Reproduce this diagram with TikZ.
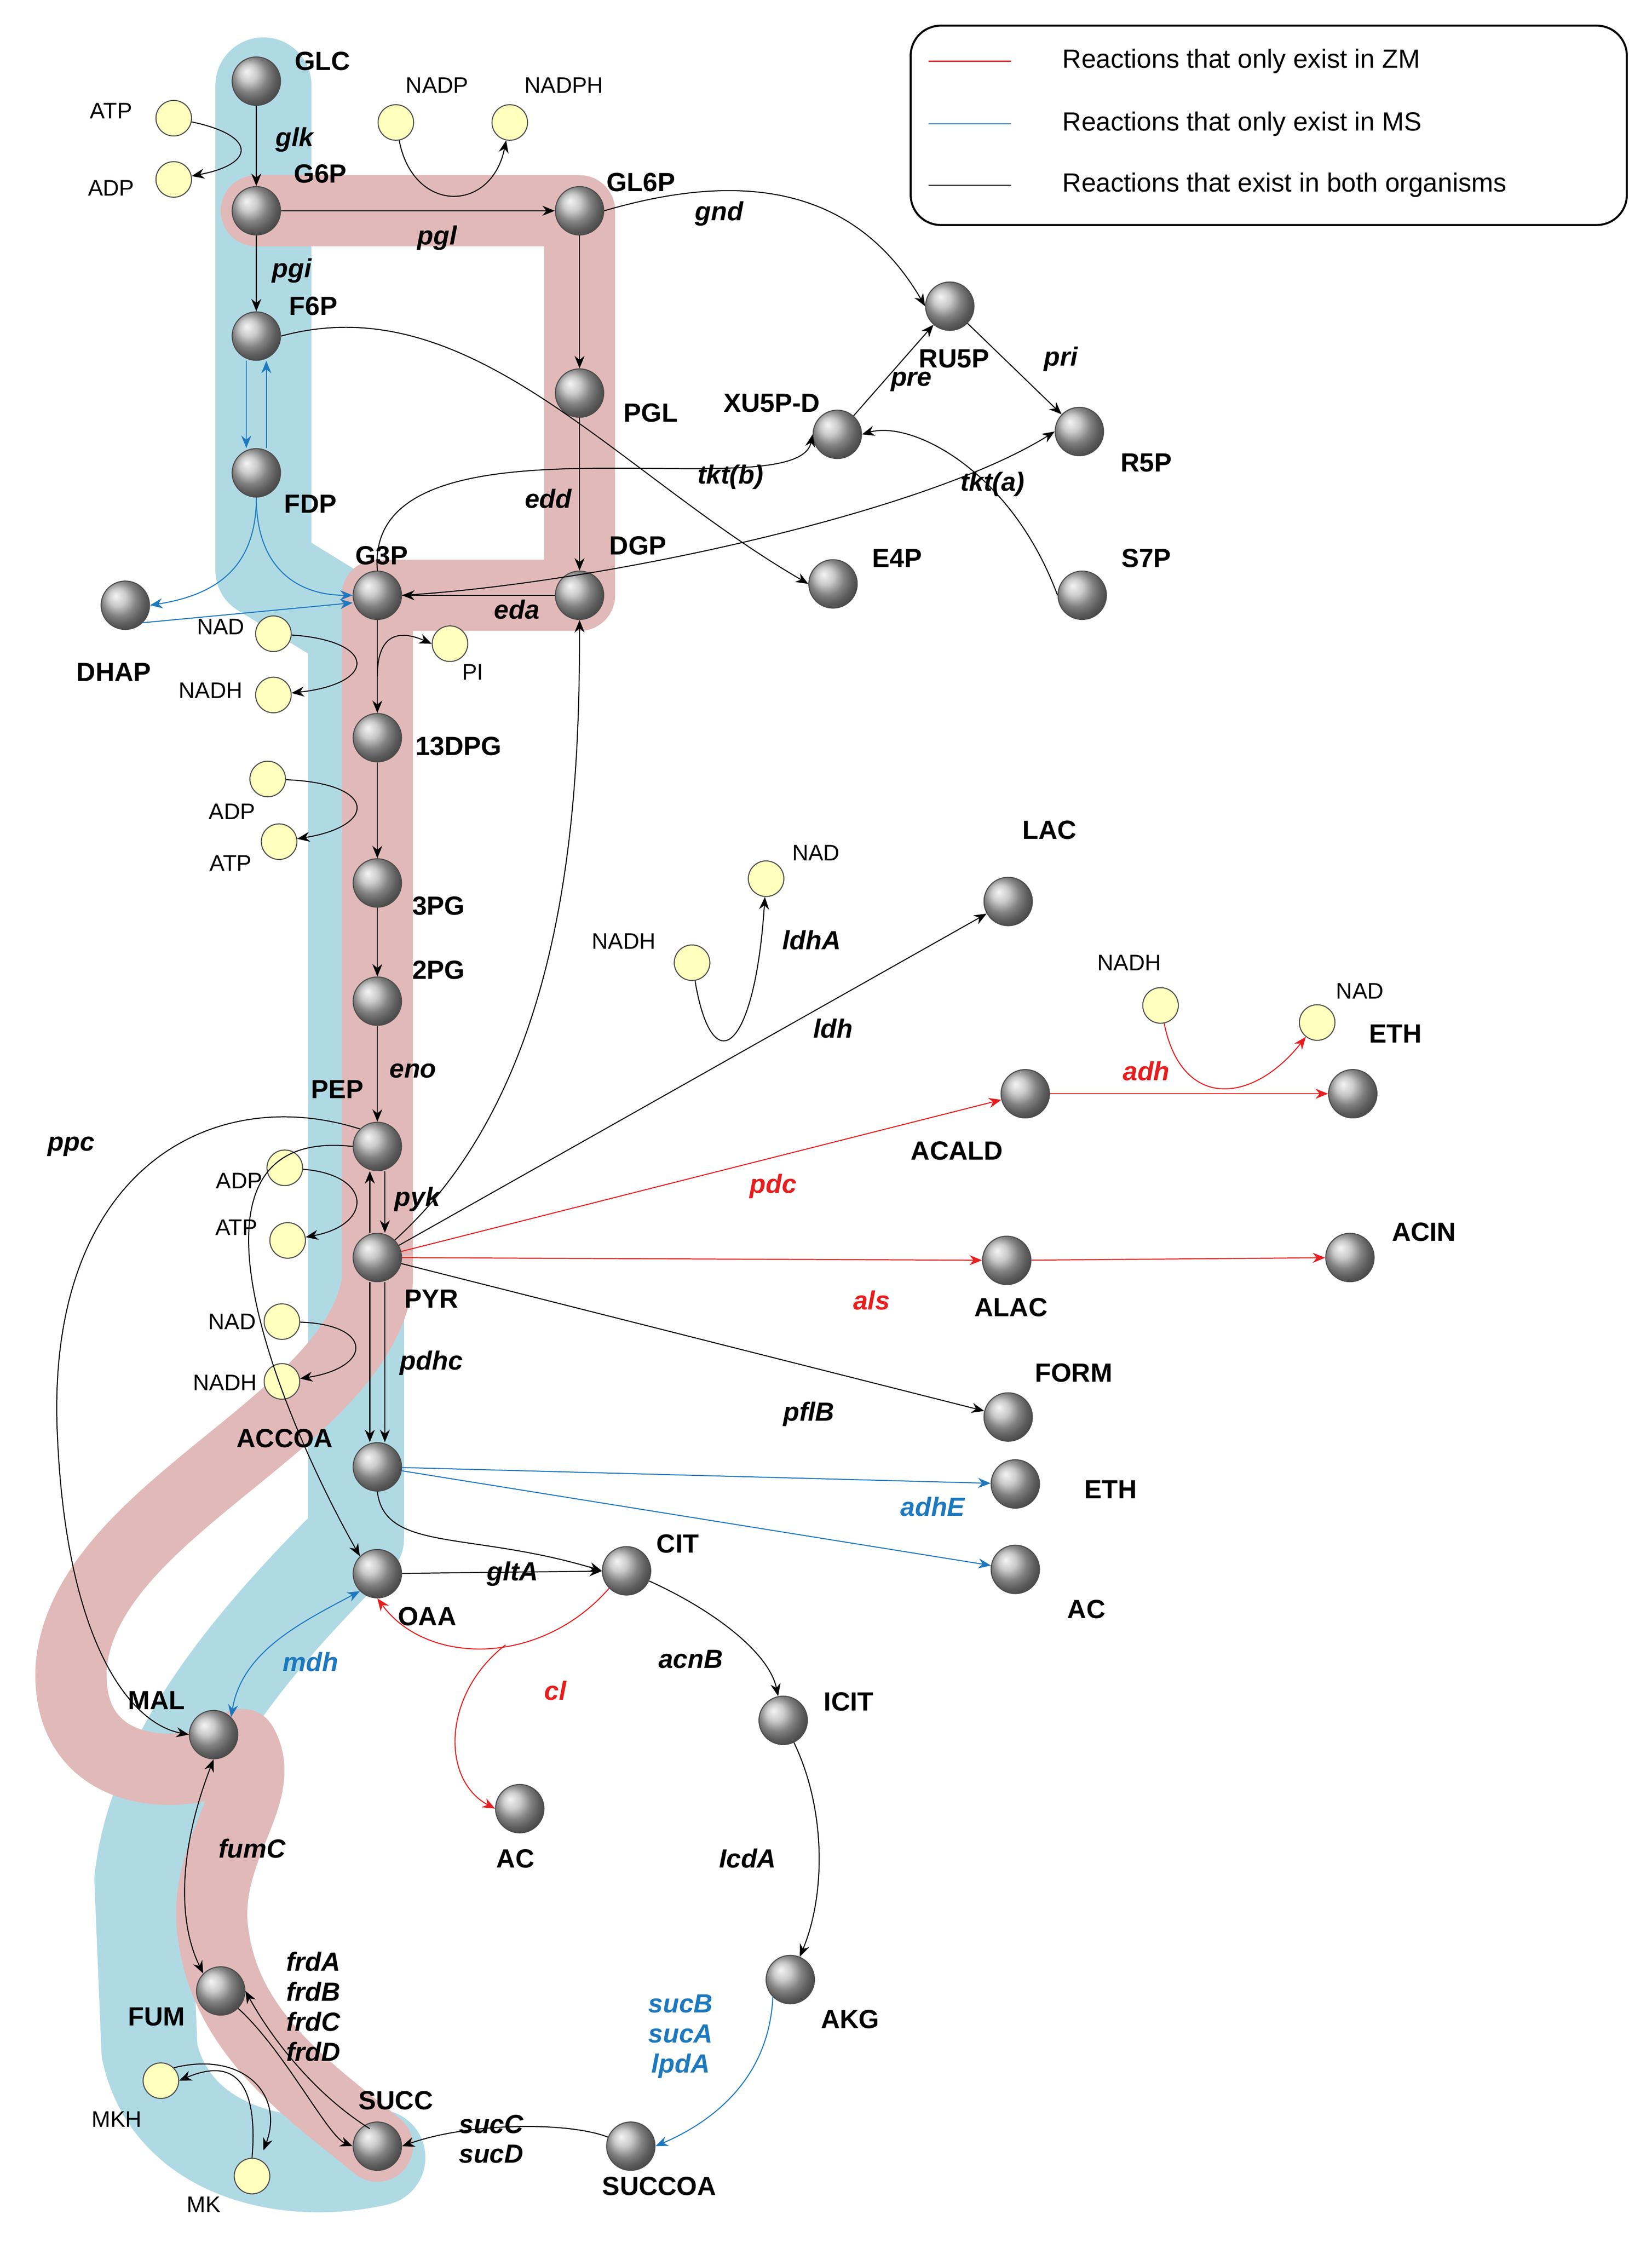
\documentclass[tikz,border=0pt]{standalone}
\usepackage{fontspec}
\setmainfont{Liberation Sans}
\usetikzlibrary{arrows.meta,positioning}
\definecolor{zmred}{RGB}{230,30,30}
\definecolor{msblue}{RGB}{30,120,190}
\definecolor{redband}{RGB}{225,185,185}
\definecolor{blueband}{RGB}{175,218,228}
\definecolor{cofill}{RGB}{255,255,190}

\begin{document}
\begin{tikzpicture}[x=0.02cm,y=-0.02cm,
    met/.style={circle, draw=gray!60!black, ball color=gray!55, minimum size=0.68cm, inner sep=0pt},
    co/.style={circle, draw=black!70, fill=cofill, minimum size=0.5cm, inner sep=0pt},
    lab/.style={font=\fontsize{10.5}{12}\selectfont\bfseries},
    clab/.style={font=\fontsize{9}{10}\selectfont},
    enz/.style={font=\fontsize{10.5}{12}\selectfont\bfseries\itshape},
    arrow/.style={-{Stealth[length=5pt,width=4pt]}, thin},
    zm/.style={arrow, draw=zmred},
    ms/.style={arrow, draw=msblue},
    band/.style={line width=#1, line cap=round, line join=round}
]
\useasboundingbox (0,0) rectangle (1160,1575);

% Background bands
\draw[band=1.35cm, blueband] (185,60) -- (185,400) -- (250,440) -- (250,1080)
    .. controls (180,1150) and (110,1230) .. (100,1320) -- (105,1440) .. controls (120,1510) and (200,1530) .. (265,1515);
\draw[band=1cm, redband] (180,148) -- (407,148) -- (407,418) -- (265,418) -- (265,900)
    .. controls (250,1000) and (60,1060) .. (50,1170) .. controls (45,1260) and (150,1250) .. (170,1225)
    .. controls (190,1260) and (140,1300) .. (150,1360) .. controls (160,1430) and (220,1470) .. (265,1507);

% Metabolites
\node[met] (glc) at (180,57) {};   \node[lab, right=2pt of glc, yshift=8pt] {GLC};
\node[met] (g6p) at (180,148) {};  \node[lab] at (225,122) {G6P};
\node[met] (gl6p) at (407,148) {}; \node[lab] at (450,128) {GL6P};
\node[met] (f6p) at (180,236) {};  \node[lab] at (220,215) {F6P};
\node[met] (fdp) at (180,332) {};  \node[lab] at (218,354) {FDP};
\node[met] (pgl) at (407,276) {};  \node[lab] at (457,290) {PGL};
\node[met] (ru5p) at (667,215) {}; \node[lab] at (670,252) {RU5P};
\node[met] (xu5p) at (588,305) {}; \node[lab] at (542,283) {XU5P-D};
\node[met] (r5p) at (758,303) {};  \node[lab] at (805,325) {R5P};
\node[met] (e4p) at (585,410) {};  \node[lab] at (630,392) {E4P};
\node[met] (s7p) at (760,418) {};  \node[lab] at (805,392) {S7P};
\node[met] (g3p) at (265,418) {};  \node[lab] at (268,390) {G3P};
\node[met] (dgp) at (407,418) {};  \node[lab] at (448,383) {DGP};
\node[met] (dhap) at (88,425) {};  \node[lab] at (80,472) {DHAP};
\node[met] (dpg) at (265,518) {};  \node[lab] at (322,524) {13DPG};
\node[met] (pg3) at (265,620) {};  \node[lab] at (308,636) {3PG};
\node[met] (pg2) at (265,703) {};  \node[lab] at (308,681) {2PG};
\node[met] (pep) at (265,805) {};  \node[lab] at (237,765) {PEP};
\node[met] (pyr) at (265,883) {};  \node[lab] at (303,912) {PYR};
\node[met] (accoa) at (265,1030) {}; \node[lab] at (200,1010) {ACCOA};
\node[met] (oaa) at (265,1105) {}; \node[lab] at (300,1135) {OAA};
\node[met] (cit) at (440,1103) {}; \node[lab] at (476,1084) {CIT};
\node[met] (icit) at (550,1208) {}; \node[lab] at (596,1195) {ICIT};
\node[met] (akg) at (555,1390) {}; \node[lab] at (597,1418) {AKG};
\node[met] (succoa) at (443,1507) {}; \node[lab] at (463,1535) {SUCCOA};
\node[met] (succ) at (265,1507) {}; \node[lab] at (278,1475) {SUCC};
\node[met] (fum) at (155,1398) {}; \node[lab] at (110,1416) {FUM};
\node[met] (mal) at (150,1218) {}; \node[lab] at (110,1194) {MAL};
\node[met] (ac) at (365,1270) {};  \node[lab] at (362,1305) {AC};
\node[met] (lac) at (708,633) {};  \node[lab] at (737,583) {LAC};
\node[met] (acald) at (720,768) {}; \node[lab] at (672,808) {ACALD};
\node[met] (eth) at (950,768) {};  \node[lab] at (980,726) {ETH};
\node[met] (alac) at (707,885) {}; \node[lab] at (710,918) {ALAC};
\node[met] (acin) at (948,883) {}; \node[lab] at (1000,865) {ACIN};
\node[met] (form) at (708,995) {}; \node[lab] at (754,964) {FORM};
\node[met] (ethb) at (713,1042) {}; \node[lab] at (780,1046) {ETH};
\node[met] (acb) at (713,1102) {}; \node[lab] at (763,1130) {AC};

% Cofactors
\node[co] (atpa) at (122,83) {};   \node[clab] at (78,78) {ATP};
\node[co] (adpa) at (122,126) {};  \node[clab] at (78,132) {ADP};
\node[co] (nadp) at (278,86) {};   \node[clab] at (307,60) {NADP};
\node[co] (nadph) at (358,86) {};  \node[clab] at (396,60) {NADPH};
\node[co] (nada) at (192,445) {};  \node[clab] at (155,440) {NAD};
\node[co] (nadha) at (192,488) {}; \node[clab] at (148,485) {NADH};
\node[co] (pi) at (316,452) {};    \node[clab] at (332,472) {PI};
\node[co] (adpb) at (188,547) {};  \node[clab] at (163,570) {ADP};
\node[co] (atpb) at (196,591) {};  \node[clab] at (162,606) {ATP};
\node[co] (nadhc) at (486,676) {}; \node[clab] at (438,661) {NADH};
\node[co] (nadc) at (538,617) {};  \node[clab] at (573,599) {NAD};
\node[co] (nadhd) at (815,706) {}; \node[clab] at (793,676) {NADH};
\node[co] (nadd) at (925,718) {};  \node[clab] at (955,696) {NAD};
\node[co] (adpc) at (200,820) {};  \node[clab] at (168,829) {ADP};
\node[co] (atpc) at (202,871) {};  \node[clab] at (166,862) {ATP};
\node[co] (nade) at (198,928) {};  \node[clab] at (163,928) {NAD};
\node[co] (nadhe) at (198,970) {}; \node[clab] at (158,971) {NADH};
\node[co] (mkh) at (113,1461) {};  \node[clab] at (82,1488) {MKH};
\node[co] (mk) at (177,1528) {};   \node[clab] at (143,1548) {MK};

% Upper glycolysis and ED pathway
\draw[arrow] (glc) -- (g6p);
\draw[arrow] (atpa) .. controls (180,95) and (180,115) .. (adpa);
\draw[arrow] (g6p) -- (gl6p);
\draw[arrow] (nadp) .. controls (290,150) and (345,150) .. (nadph);
\draw[arrow] (g6p) -- (f6p);
\draw[ms] ([xshift=-4pt]f6p.south) -- ([xshift=-4pt]fdp.north);
\draw[ms] ([xshift=4pt]fdp.north) -- ([xshift=4pt]f6p.south);
\draw[ms] (fdp.south) .. controls (180,400) and (150,418) .. (dhap.east);
\draw[ms] (fdp.south) .. controls (180,400) and (210,418) .. (g3p.west);
\draw[ms] (dhap.south east) -- ([yshift=-3pt]g3p.west);
\draw[arrow] (gl6p) -- (pgl);
\draw[arrow] (pgl) -- (dgp);
\draw[arrow] (dgp) -- (g3p);
\draw[arrow] (gl6p.east) .. controls (520,120) and (600,130) .. (ru5p.west);
\draw[arrow] (ru5p) -- (r5p);
\draw[arrow] (xu5p) -- (ru5p);
\draw[arrow] (f6p.east) .. controls (330,200) and (430,330) .. (e4p.west);
\draw[arrow] (g3p.north) .. controls (255,280) and (560,360) .. (xu5p.west);
\draw[arrow] (s7p.west) .. controls (710,330) and (640,295) .. (xu5p.east);
\draw[arrow] (g3p.east) .. controls (420,410) and (650,360) .. (r5p.west);

% Lower glycolysis
\draw[arrow] (g3p) -- (dpg);
\draw[arrow] (nada) .. controls (265,450) and (265,480) .. (nadha);
\draw[arrow] (265,475) .. controls (265,445) and (280,442) .. (pi.west);
\draw[arrow] (dpg) -- (pg3);
\draw[arrow] (adpb) .. controls (265,550) and (265,580) .. (atpb);
\draw[arrow] (pg3) -- (pg2);
\draw[arrow] (pg2) -- (pep);
\draw[arrow] ([xshift=3pt]pep.south) -- ([xshift=3pt]pyr.north);
\draw[arrow] ([xshift=-3pt]pyr.north) -- ([xshift=-3pt]pep.south);
\draw[arrow] (adpc) .. controls (262,825) and (262,860) .. (atpc);
\draw[arrow] (pyr.north east) .. controls (400,760) and (407,560) .. (dgp.south);

% Fermentation
\draw[arrow] (pyr) -- (lac);
\draw[arrow] (nadhc) .. controls (500,760) and (530,740) .. (nadc);
\draw[zm] (pyr) -- (acald);
\draw[zm] (acald) -- (eth);
\draw[zm] (nadhd) .. controls (830,780) and (880,775) .. (nadd);
\draw[zm] (pyr) -- (alac);
\draw[zm] (alac) -- (acin);
\draw[arrow] (pyr) -- (form);
\draw[arrow] ([xshift=-3pt]pyr.south) -- ([xshift=-3pt]accoa.north);
\draw[arrow] ([xshift=3pt]pyr.south) -- ([xshift=3pt]accoa.north);
\draw[arrow] (nade) .. controls (262,930) and (262,960) .. (nadhe);
\draw[ms] (accoa) -- (ethb);
\draw[ms] (accoa) -- (acb);

% TCA cycle
\draw[arrow] (accoa.south) .. controls (270,1090) and (330,1075) .. (cit.west);
\draw[arrow] (oaa) -- (cit);
\draw[arrow] (pep.north west) .. controls (150,760) and (35,820) .. (40,1000) .. controls (45,1150) and (90,1210) .. (mal.west);
\draw[arrow] (pep.west) .. controls (110,790) and (200,1000) .. (oaa.north west);
\draw[arrow] (cit) .. controls (500,1130) and (540,1160) .. (icit);
\draw[arrow] (icit) .. controls (580,1270) and (580,1330) .. (akg);
\draw[ms] (akg.south west) .. controls (540,1460) and (500,1490) .. (succoa.east);
\draw[arrow] (succoa) .. controls (400,1490) and (330,1490) .. (succ.east);
\draw[zm] (cit.south west) .. controls (380,1170) and (300,1170) .. (oaa.south);
\draw[zm] (355,1155) .. controls (310,1190) and (310,1250) .. (ac.west);
\draw[ms, {Stealth[length=5pt,width=4pt]}-{Stealth[length=5pt,width=4pt]}] (oaa.south west) .. controls (210,1140) and (170,1160) .. (mal.north east);
\draw[arrow, {Stealth[length=5pt,width=4pt]}-{Stealth[length=5pt,width=4pt]}] (mal.south) .. controls (125,1300) and (125,1350) .. (fum.north west);
\draw[arrow] (fum.south east) .. controls (200,1440) and (230,1500) .. (succ.west);
\draw[arrow] ([xshift=4pt]succ.north west) .. controls (220,1470) and (190,1430) .. (fum.east);
\draw[arrow] (mk.north) .. controls (180,1480) and (175,1440) .. (mkh.east);
\draw[arrow] (mkh.north east) .. controls (170,1440) and (200,1470) .. (185,1510);

% Enzyme labels
\node[enz] at (207,98) {glk};
\node[enz] at (307,167) {pgl};
\node[enz] at (205,190) {pgi};
\node[enz] at (505,150) {gnd};
\node[enz] at (745,252) {pri};
\node[enz] at (640,268) {pre};
\node[enz] at (513,335) {tkt(b)};
\node[enz] at (697,340) {tkt(a)};
\node[enz] at (385,350) {edd};
\node[enz] at (363,428) {eda};
\node[enz] at (290,752) {eno};
\node[enz] at (293,842) {pyk};
\node[enz] at (50,805) {ppc};
\node[enz] at (570,660) {ldhA};
\node[enz] at (585,722) {ldh};
\node[enz, zmred] at (805,752) {adh};
\node[enz, zmred] at (543,833) {pdc};
\node[enz, zmred] at (612,913) {als};
\node[enz] at (568,993) {pflB};
\node[enz] at (303,957) {pdhc};
\node[enz, msblue] at (655,1058) {adhE};
\node[enz] at (360,1105) {gltA};
\node[enz] at (485,1165) {acnB};
\node[enz] at (525,1305) {IcdA};
\node[enz, msblue, align=center] at (478,1430) {sucB\\sucA\\lpdA};
\node[enz, align=center] at (345,1502) {sucC\\sucD};
\node[enz, zmred] at (390,1187) {cl};
\node[enz, msblue] at (218,1167) {mdh};
\node[enz] at (177,1298) {fumC};
\node[enz, align=left] at (220,1409) {frdA\\frdB\\frdC\\frdD};

% Legend
\node[draw, rounded corners=12pt, thick, minimum width=10.06cm, minimum height=2.8cm] (legend) at (891,88) {};
\coordinate (lra) at (652,43); \coordinate (lrb) at (710,43);
\coordinate (lba) at (652,87); \coordinate (lbb) at (710,87);
\coordinate (lka) at (652,130); \coordinate (lkb) at (710,130);
\draw[zmred] (lra) -- (lrb);
\draw[msblue] (lba) -- (lbb);
\draw (lka) -- (lkb);
\node[anchor=west, font=\fontsize{10.5}{12}\selectfont] at (740,43) {Reactions that only exist in ZM};
\node[anchor=west, font=\fontsize{10.5}{12}\selectfont] at (740,87) {Reactions that only exist in MS};
\node[anchor=west, font=\fontsize{10.5}{12}\selectfont] at (740,130) {Reactions that exist in both organisms};
\end{tikzpicture}
\end{document}
